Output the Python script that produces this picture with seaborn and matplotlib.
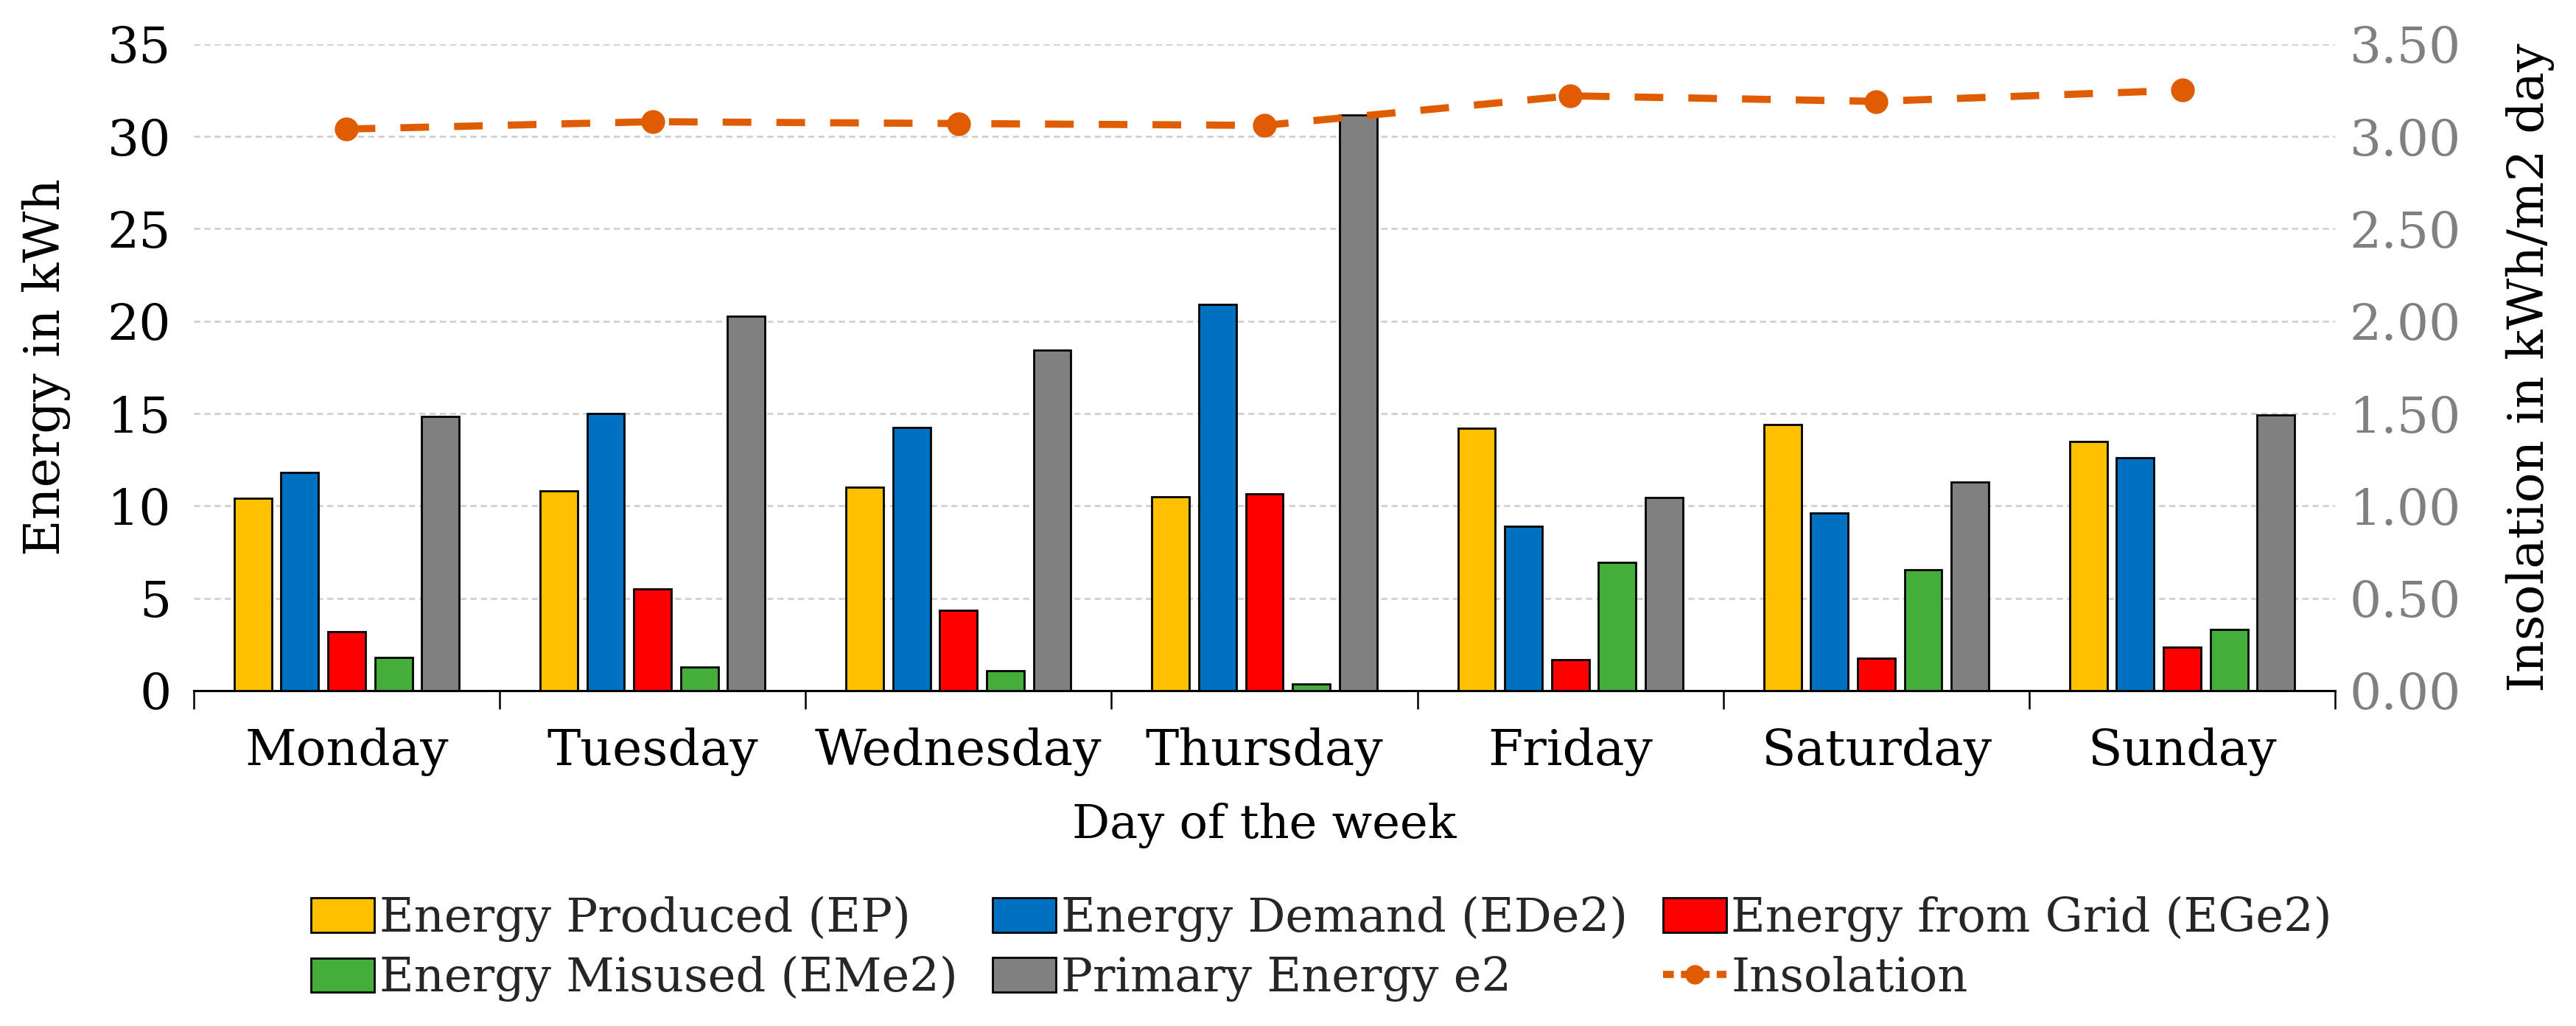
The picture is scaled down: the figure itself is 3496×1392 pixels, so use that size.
import matplotlib
matplotlib.use("Agg")
import matplotlib.pyplot as plt
import seaborn as sns
import pandas as pd
import numpy as np
from matplotlib.ticker import FixedLocator, FormatStrFormatter, MultipleLocator
from matplotlib.lines import Line2D

days = ["Monday", "Tuesday", "Wednesday", "Thursday", "Friday", "Saturday", "Sunday"]
energy_produced = [10.4, 10.8, 11.0, 10.5, 14.2, 14.4, 13.5]
energy_demand = [11.8, 15.0, 14.25, 20.9, 8.9, 9.6, 12.6]
energy_grid = [3.2, 5.5, 4.35, 10.65, 1.65, 1.75, 2.35]
energy_misused = [1.8, 1.27, 1.08, 0.35, 6.95, 6.55, 3.3]
primary_energy = [14.85, 20.25, 18.45, 31.15, 10.45, 11.3, 14.9]
insolation = [3.04, 3.08, 3.07, 3.06, 3.22, 3.19, 3.25]

series_names = ["Energy Produced (EP)", "Energy Demand (EDe2)", "Energy from Grid (EGe2)",
                "Energy Misused (EMe2)", "Primary Energy e2"]
series_values = [energy_produced, energy_demand, energy_grid, energy_misused, primary_energy]
colors = ["#FFC000", "#0070C0", "#FF0000", "#45AF3C", "#808080"]
line_color = "#E05C00"

rows = []
for name, vals in zip(series_names, series_values):
    for d, v in zip(days, vals):
        rows.append({"day": d, "series": name, "value": v})
df = pd.DataFrame(rows)
df_ins = pd.DataFrame({"day": days, "ins": insolation})

sns.set_theme(style="white")
plt.rcParams["font.family"] = ["DejaVu Serif"]
FS = 49
FS_LAB = 46

fig = plt.figure(figsize=(34.96, 13.92), dpi=100)
ax = fig.add_axes([0.0752, 0.327, 0.8313, 0.630])

sns.barplot(data=df, x="day", y="value", hue="series", hue_order=series_names, order=days,
            palette=colors, width=0.766, gap=0.2, edgecolor="black", linewidth=2.0,
            saturation=1.0, errorbar=None, ax=ax, legend=False, zorder=3)

ax.set_ylim(0, 35)
ax.yaxis.set_major_locator(MultipleLocator(5))
ax.set_xlim(-0.5, len(days) - 0.5)
ax.grid(axis="y", color="#D0D0D0", linestyle=(0, (3, 2)), linewidth=2.0, zorder=0)
ax.grid(axis="x", visible=False)
for s in ["left", "right", "top"]:
    ax.spines[s].set_visible(False)
ax.spines["bottom"].set_color("black")
ax.spines["bottom"].set_linewidth(2.2)
ax.xaxis.set_minor_locator(FixedLocator(np.arange(-0.5, len(days), 1.0)))
ax.tick_params(axis="x", which="major", length=0, pad=36, labelsize=FS, colors="black")
ax.tick_params(axis="x", which="minor", length=18, width=1.8, color="black", direction="out", bottom=True)
ax.tick_params(axis="y", length=0, pad=22, labelsize=FS, colors="black")
ax.set_xlabel("Day of the week", fontsize=FS_LAB, labelpad=26, color="black")
ax.set_ylabel("Energy in kWh", fontsize=FS, labelpad=36, color="black")

ax2 = ax.twinx()
sns.pointplot(data=df_ins, x="day", y="ins", order=days, color=line_color, markers="o",
              linestyles=(0, (4, 3.5)), markersize=18, linewidth=7, errorbar=None, ax=ax2, zorder=5)
ax2.set_xlim(-0.5, len(days) - 0.5)
ax2.set_ylim(0, 3.5)
ax2.yaxis.set_major_locator(MultipleLocator(0.5))
ax2.yaxis.set_major_formatter(FormatStrFormatter("%.2f"))
ax2.grid(False)
for s in ["left", "right", "top", "bottom"]:
    ax2.spines[s].set_visible(False)
ax2.tick_params(axis="y", length=0, pad=14, labelsize=FS, colors="#808080")
ax2.set_ylabel("Insolation in kWh/m2 day", fontsize=FS, labelpad=44, color="black")

handles = [plt.Rectangle((0, 0), 1, 1, facecolor=c, edgecolor="black", linewidth=2.0) for c in colors]
line_handle = Line2D([0], [0], color=line_color, linestyle=(0, (1.5, 1)), linewidth=7,
                     marker="o", markersize=18)
leg_handles = [handles[0], handles[3], handles[1], handles[4], handles[2], line_handle]
leg_labels = [series_names[0], series_names[3], series_names[1], series_names[4], series_names[2], "Insolation"]
fig.legend(leg_handles, leg_labels, loc="upper center", bbox_to_anchor=(0.513, 0.15), ncol=3,
           frameon=False, fontsize=FS_LAB, handlelength=1.35, handleheight=0.75, handletextpad=0.1,
           columnspacing=0.75, labelspacing=0.3, borderpad=0)

fig.savefig("out.png", dpi=100)
